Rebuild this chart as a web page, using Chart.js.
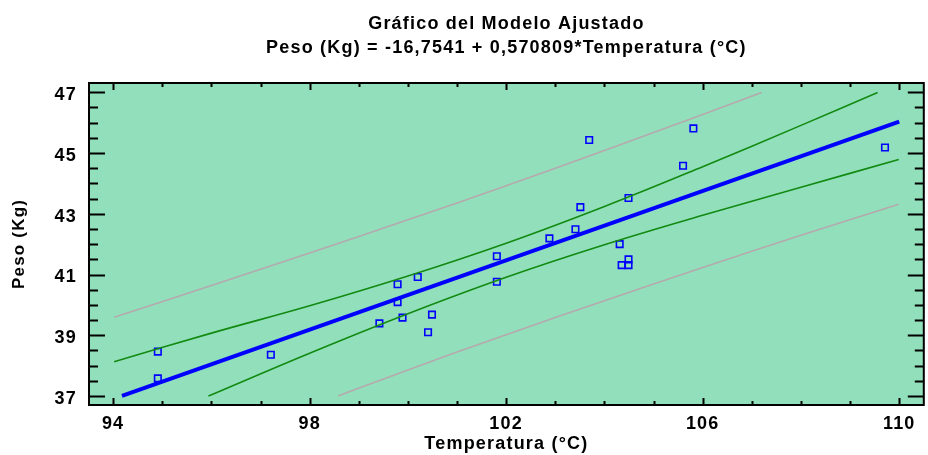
<!DOCTYPE html>
<html>
<head>
<meta charset="utf-8">
<script src="https://cdn.jsdelivr.net/npm/chart.js@4"></script>
<style>
  html, body { margin: 0; padding: 0; background: #fff; overflow: hidden; }
  #wrap { width: 930px; height: 455px; }
</style>
</head>
<body>
<div id="wrap"><canvas id="myChart"></canvas></div>
<script>
// modelo ajustado: Peso = a + b * Temperatura
const intercept = -16.7541;
const slope = 0.570809;
const fitRange = [94.18, 110.0];

// observaciones
const temperatura = [94.91, 94.91, 97.21, 99.42, 99.79, 99.79, 99.89, 100.20, 100.41, 100.49,
  101.81, 101.81, 102.88, 103.41, 103.51, 103.69, 104.31, 104.35, 104.49, 104.49,
  104.49, 105.81, 105.60, 109.71];
const peso = [38.46, 37.58, 38.36, 39.39, 40.68, 40.09, 39.58, 40.92, 39.10, 39.68,
  41.60, 40.76, 42.19, 42.49, 43.22, 45.43, 42.00, 41.31, 41.31, 41.50,
  43.52, 45.81, 44.58, 45.18];

// limites de confianza para la media (verde)
const confSupX = [94.02, 96.0, 98.0, 100.0, 102.0, 104.0, 106.0, 108.0, 109.56];
const confSupY = [38.13, 39.07, 39.97, 40.95, 42.03, 43.24, 44.55, 45.91, 46.99];
const confInfX = [95.94, 98.0, 100.0, 102.0, 104.0, 106.0, 108.0, 109.99];
const confInfY = [37.00, 38.41, 39.71, 40.91, 41.98, 42.95, 43.87, 44.79];

// limites de prediccion (gris)
const predSupX = [94.02, 96.0, 98.0, 100.0, 102.0, 104.0, 106.0, 107.2];
const predSupY = [39.59, 40.64, 41.71, 42.80, 43.92, 45.08, 46.27, 46.99];
const predInfX = [98.58, 100.0, 102.0, 104.0, 106.0, 108.0, 109.99];
const predInfY = [37.00, 37.86, 39.02, 40.14, 41.23, 42.29, 43.31];

const xTicks = [94, 98, 102, 106, 110];
const yTicks = [37, 39, 41, 43, 45, 47];

const pts = (xs, ys) => xs.map((x, i) => ({ x: x, y: ys[i] }));
const fitLine = fitRange.map(x => ({ x: x, y: intercept + slope * x }));

const FONT = "'Liberation Sans', Arial, sans-serif";

const frame = {
  id: 'frame',
  beforeDraw(chart) {
    // horizontal texts get a little extra spacing
    chart.ctx.letterSpacing = '1.2px';
  },
  beforeDatasetsDraw(chart) {
    const a = chart.chartArea, c = chart.ctx;
    c.save();
    c.fillStyle = '#92e0bb';
    c.fillRect(a.left, a.top, a.right - a.left, a.bottom - a.top);
    c.restore();
  },
  afterDatasetsDraw(chart) {
    // y axis (z: 1) is drawn after this point, without spacing
    chart.ctx.letterSpacing = '0px';
  },
  afterDraw(chart) {
    const a = chart.chartArea, c = chart.ctx;
    const xs = chart.scales.x, ys = chart.scales.y;
    c.save();
    c.strokeStyle = '#000';
    c.lineWidth = 2;
    c.strokeRect(a.left, a.top, a.right - a.left, a.bottom - a.top);
    c.beginPath();
    // x ticks, top and bottom, inward
    for (let v = 94; v <= 110; v += 1) {
      const px = Math.round(xs.getPixelForValue(v)) + 0.5;
      const len = xTicks.includes(v) ? 7 : 4;
      c.moveTo(px, a.bottom); c.lineTo(px, a.bottom - len);
      c.moveTo(px, a.top); c.lineTo(px, a.top + len);
    }
    // y ticks, left and right, inward
    for (let v = 37; v <= 47; v += 0.5) {
      const py = Math.round(ys.getPixelForValue(v)) + 0.5;
      const len = yTicks.includes(v) ? 16 : 9;
      c.moveTo(a.left, py); c.lineTo(a.left + len, py);
      c.moveTo(a.right, py); c.lineTo(a.right - len, py);
    }
    c.stroke();
    c.restore();
  }
};

const line = (data, color, width) => ({
  type: 'line',
  data: data,
  borderColor: color,
  borderWidth: width,
  pointRadius: 0,
  tension: 0.4,
  fill: false
});

new Chart(document.getElementById('myChart'), {
  type: 'scatter',
  data: {
    datasets: [
      line(pts(predSupX, predSupY), '#b5a9ae', 1.6),
      line(pts(predInfX, predInfY), '#b5a9ae', 1.6),
      line(pts(confSupX, confSupY), '#128a12', 1.6),
      line(pts(confInfX, confInfY), '#128a12', 1.6),
      Object.assign(line(fitLine, '#0000ff', 4), { tension: 0 }),
      {
        data: pts(temperatura, peso),
        pointStyle: 'rect',
        pointRadius: 4.6,
        borderColor: '#0000ff',
        borderWidth: 1.6,
        backgroundColor: 'rgba(0,0,0,0)'
      }
    ]
  },
  options: {
    responsive: true,
    maintainAspectRatio: false,
    animation: false,
    layout: { padding: 0 },
    plugins: {
      legend: { display: false },
      tooltip: { enabled: false },
      title: {
        display: true,
        fullSize: false,
        text: ['Gráfico del Modelo Ajustado', 'Peso (Kg) = -16,7541 + 0,570809*Temperatura (°C)'],
        color: '#000',
        font: { family: FONT, size: 18, weight: 'bold', lineHeight: 1.333 },
        padding: { top: 12, bottom: 23 }
      }
    },
    scales: {
      x: {
        type: 'linear',
        min: 93.509,
        max: 110.5,
        afterFit: s => { s.height = 50; },
        afterBuildTicks: s => { s.ticks = xTicks.map(v => ({ value: v })); },
        grid: { display: false, drawTicks: false },
        border: { display: false },
        ticks: { color: '#000', padding: 8, maxRotation: 0, font: { family: FONT, size: 18, weight: 'bold' } },
        title: {
          display: true,
          text: 'Temperatura (°C)',
          color: '#000',
          font: { family: FONT, size: 18, weight: 'bold' },
          padding: { top: 0, bottom: 0 }
        }
      },
      y: {
        type: 'linear',
        z: 1,
        min: 36.704,
        max: 47.306,
        afterFit: s => { s.width = 89; },
        afterBuildTicks: s => { s.ticks = yTicks.map(v => ({ value: v })); },
        grid: { display: false, drawTicks: false },
        border: { display: false },
        ticks: { color: '#000', padding: 12, labelOffset: 3, font: { family: FONT, size: 18, weight: 'bold' } },
        title: {
          display: true,
          text: 'Peso (Kg)',
          color: '#000',
          font: { family: FONT, size: 17, weight: 'bold' },
          padding: { top: 9, bottom: 0 }
        }
      }
    }
  },
  plugins: [frame]
});
</script>
</body>
</html>
